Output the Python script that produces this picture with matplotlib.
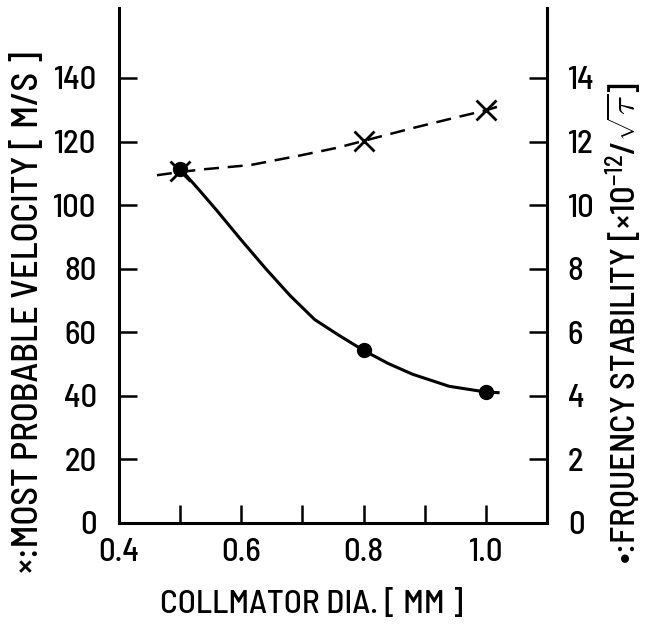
import numpy as np
import matplotlib
matplotlib.use("Agg")
import matplotlib.pyplot as plt
from matplotlib.ticker import FixedLocator

plt.rcParams['font.family'] = ['Barlow Semi Condensed', 'DejaVu Sans']
plt.rcParams['font.weight'] = 'medium'
plt.rcParams['mathtext.fontset'] = 'custom'
plt.rcParams['mathtext.rm'] = 'Barlow Semi Condensed'
plt.rcParams['mathtext.it'] = 'Barlow Semi Condensed:italic'

# measured points (x markers: velocity, dots: frequency stability)
collimator_dia = [0.5, 0.8, 1.0]
velocity = [110.8, 120.3, 129.8]
stability = [11.15, 5.43, 4.12]

# hand drawn curves
vel_curve_x = [0.462, 0.5, 0.535, 0.615, 0.696, 0.756, 0.8, 0.886, 0.956, 1.0, 1.02]
vel_curve_y = [109.4, 110.4, 111.2, 112.6, 115.6, 118.0, 120.2, 124.5, 127.8, 129.8, 131.0]
stab_curve_x = [0.5, 0.53, 0.56, 0.6, 0.64, 0.68, 0.72, 0.76, 0.8, 0.84, 0.88, 0.94, 1.0, 1.02]
stab_curve_y = [11.15, 10.5, 9.83, 8.9, 8.0, 7.15, 6.4, 5.9, 5.43, 5.02, 4.68, 4.3, 4.12, 4.1]

fig = plt.figure(figsize=(6.47, 6.26), dpi=100)
ax = fig.add_axes([119/647, 1-523/626, 428/647, 515/626])
ax2 = ax.twinx()

# velocity, dashed line with x markers
ax.plot(vel_curve_x, vel_curve_y, color='black', lw=1.8, linestyle=(0, (6, 3.5)))
ax.plot(collimator_dia, velocity, linestyle='none', marker='x', ms=15, mew=2.0, color='black')

# frequency stability, solid line with dots
ax2.plot(stab_curve_x, stab_curve_y, color='black', lw=2.2)
ax2.plot(collimator_dia, stability, linestyle='none', marker='o', ms=10, color='black')

ax.set_xlim(0.4, 1.1)
ax.set_ylim(0, 162)
ax2.set_ylim(0, 16.2)

ax.xaxis.set_major_locator(FixedLocator([0.4, 0.6, 0.8, 1.0]))
ax.xaxis.set_minor_locator(FixedLocator([0.5, 0.7, 0.9]))
ax.set_xticklabels(['0.4', '0.6', '0.8', '1.0'])
ax.set_yticks(np.arange(0, 141, 20))
ax2.set_yticks(np.arange(0, 15, 2))

ax.tick_params(axis='x', which='both', direction='in', length=13, width=1.8, labelsize=23.5, pad=11)
ax.tick_params(axis='y', direction='in', length=13, width=1.8, labelsize=23.5, pad=16)
ax2.tick_params(axis='y', direction='in', length=13, width=1.8, labelsize=23.5, pad=15)

for a in (ax, ax2):
    a.spines['top'].set_visible(False)
    for s in a.spines.values():
        s.set_linewidth(2.2)
ax.spines['right'].set_visible(False)
ax2.spines['left'].set_visible(False)
ax2.spines['bottom'].set_visible(False)

fig.text(312/647, 1-604/626, 'COLLMATOR DIA. [ MM ]', ha='center', va='center', fontsize=24)
fig.text(28/647, 1-312/626, '×:MOST PROBABLE VELOCITY [ M/S ]', ha='center', va='center',
         rotation=90, fontsize=26.5)
fig.text(624/647, 1-323/626, '•:FRQUENCY STABILITY [×10$^{-12}$/$\\sqrt{\\tau}$]', ha='center',
         va='center', rotation=90, fontsize=25)

fig.savefig('out.png', dpi=100)
